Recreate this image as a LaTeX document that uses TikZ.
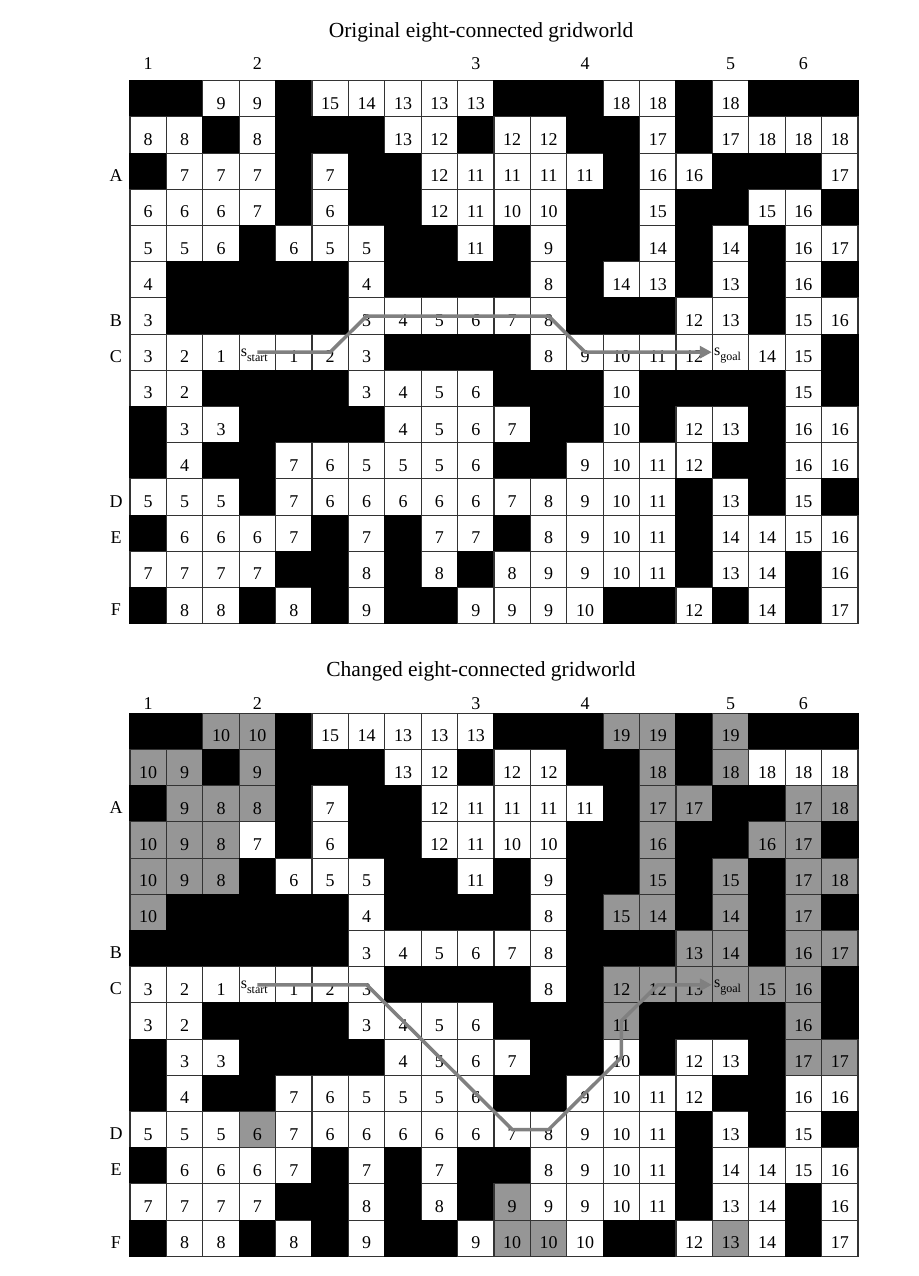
\documentclass[tikz,border=0pt]{standalone}
\usepackage{fontspec}
\setmainfont{Liberation Serif}
\usetikzlibrary{arrows.meta}
\definecolor{cellgray}{RGB}{150,150,150}
\definecolor{pathgray}{RGB}{128,128,128}
\newcommand\numfont{\fontsize{18}{18}\selectfont}
\newcommand\sublblfont{\fontsize{12}{12}\selectfont}
\def\mkcell#1#2\relax{\node[sqbox#1] (\gp-\gr-\cc) at ({130+36.4*(\cc+0.5)},{\gy+36.2*(\gr+0.5)}) {#2};}
\tikzset{
  sqbase/.style={minimum width=36.4pt, minimum height=36.2pt, inner sep=0pt, line width=1.1pt, font=\numfont, text height=21pt, text depth=0pt},
  sqboxw/.style={sqbase, draw=black!80, fill=white},
  sqboxk/.style={sqbase, draw=black, fill=black},
  sqboxg/.style={sqbase, draw=black!80, fill=cellgray},
  sqboxs/.style={sqboxw},
  sqboxe/.style={sqboxw},
  sqboxf/.style={sqboxg},
  slbl/.style={inner sep=0pt, font=\fontsize{16}{16}\selectfont},
  axlbl/.style={inner sep=0pt, font=\numfont, anchor=base},
  titlelbl/.style={inner sep=0pt, font=\fontsize{21.5}{21.5}\selectfont, anchor=base},
  pathline/.style={draw=pathgray, line width=3.5pt, line join=round, -{Triangle[length=12pt,width=12pt]}}
}
\begin{document}
\begin{tikzpicture}[x=1pt,y=-1pt]
\useasboundingbox (0,0) rectangle (918,1276);
\fill[white] (0,0) rectangle (918,1276);
% titles
\node[titlelbl] (title1) at (481,38) {Original eight-connected gridworld};
\node[titlelbl] (title2) at (481,676) {Changed eight-connected gridworld};
% top grid
\def\gp{t}\def\gy{80.7}
\foreach \rowlist [count=\gr from 0] in {
 {k,k,w9,w9,k,w15,w14,w13,w13,w13,k,k,k,w18,w18,k,w18,k,k,k},
 {w8,w8,k,w8,k,k,k,w13,w12,k,w12,w12,k,k,w17,k,w17,w18,w18,w18},
 {k,w7,w7,w7,k,w7,k,k,w12,w11,w11,w11,w11,k,w16,w16,k,k,k,w17},
 {w6,w6,w6,w7,k,w6,k,k,w12,w11,w10,w10,k,k,w15,k,k,w15,w16,k},
 {w5,w5,w6,k,w6,w5,w5,k,k,w11,k,w9,k,k,w14,k,w14,k,w16,w17},
 {w4,k,k,k,k,k,w4,k,k,k,k,w8,k,w14,w13,k,w13,k,w16,k},
 {w3,k,k,k,k,k,w3,w4,w5,w6,w7,w8,k,k,k,w12,w13,k,w15,w16},
 {w3,w2,w1,s,w1,w2,w3,k,k,k,k,w8,w9,w10,w11,w12,e,w14,w15,k},
 {w3,w2,k,k,k,k,w3,w4,w5,w6,k,k,k,w10,k,k,k,k,w15,k},
 {k,w3,w3,k,k,k,k,w4,w5,w6,w7,k,k,w10,k,w12,w13,k,w16,w16},
 {k,w4,k,k,w7,w6,w5,w5,w5,w6,k,k,w9,w10,w11,w12,k,k,w16,w16},
 {w5,w5,w5,k,w7,w6,w6,w6,w6,w6,w7,w8,w9,w10,w11,k,w13,k,w15,k},
 {k,w6,w6,w6,w7,k,w7,k,w7,w7,k,w8,w9,w10,w11,k,w14,w14,w15,w16},
 {w7,w7,w7,w7,k,k,w8,k,w8,k,w8,w9,w9,w10,w11,k,w13,w14,k,w16},
 {k,w8,w8,k,w8,k,w9,k,k,w9,w9,w9,w10,k,k,w12,k,w14,k,w17}}
 {\foreach \v [count=\cc from 0] in \rowlist {\expandafter\mkcell\v\relax}}
% bottom grid
\def\gp{u}\def\gy{713.3}
\foreach \rowlist [count=\gr from 0] in {
 {k,k,g10,g10,k,w15,w14,w13,w13,w13,k,k,k,g19,g19,k,g19,k,k,k},
 {g10,g9,k,g9,k,k,k,w13,w12,k,w12,w12,k,k,g18,k,g18,w18,w18,w18},
 {k,g9,g8,g8,k,w7,k,k,w12,w11,w11,w11,w11,k,g17,g17,k,k,g17,g18},
 {g10,g9,g8,w7,k,w6,k,k,w12,w11,w10,w10,k,k,g16,k,k,g16,g17,k},
 {g10,g9,g8,k,w6,w5,w5,k,k,w11,k,w9,k,k,g15,k,g15,k,g17,g18},
 {g10,k,k,k,k,k,w4,k,k,k,k,w8,k,g15,g14,k,g14,k,g17,k},
 {k,k,k,k,k,k,w3,w4,w5,w6,w7,w8,k,k,k,g13,g14,k,g16,g17},
 {w3,w2,w1,s,w1,w2,w3,k,k,k,k,w8,k,g12,g12,g13,f,g15,g16,k},
 {w3,w2,k,k,k,k,w3,w4,w5,w6,k,k,k,g11,k,k,k,k,g16,k},
 {k,w3,w3,k,k,k,k,w4,w5,w6,w7,k,k,w10,k,w12,w13,k,g17,g17},
 {k,w4,k,k,w7,w6,w5,w5,w5,w6,k,k,w9,w10,w11,w12,k,k,w16,w16},
 {w5,w5,w5,g6,w7,w6,w6,w6,w6,w6,w7,w8,w9,w10,w11,k,w13,k,w15,k},
 {k,w6,w6,w6,w7,k,w7,k,w7,k,k,w8,w9,w10,w11,k,w14,w14,w15,w16},
 {w7,w7,w7,w7,k,k,w8,k,w8,k,g9,w9,w9,w10,w11,k,w13,w14,k,w16},
 {k,w8,w8,k,w8,k,w9,k,k,w9,g10,g10,w10,k,k,w12,g13,w14,k,w17}}
 {\foreach \v [count=\cc from 0] in \rowlist {\expandafter\mkcell\v\relax}}
% axis labels
\foreach \g/\yb in {t/70, u/709} {
  \foreach \lab/\col in {1/0, 2/3, 3/9, 4/12, 5/16, 6/18}
    \node[axlbl] (\g-col\lab) at ({130+36.4*(\col+0.5)},\yb) {\lab};
}
\foreach \g/\ya in {t/80.7, u/713.3} {
  \foreach \lab/\row in {A/2, B/6, C/7, D/11, E/12, F/14}
    \node[axlbl] (\g-row\lab) at (116,{\ya+36.2*(\row+0.5)+10}) {\lab};
}
% paths
\draw[pathline] (t-7-3.center) -- (t-7-5.center) -- (t-6-6.center) -- (t-6-11.center) -- (t-7-12.center) -- (t-7-15.center) -- (t-7-16.west);
\draw[pathline] (u-7-3.center) -- (u-7-6.center) -- (u-11-10.center) -- (u-11-11.center) -- (u-9-13.center) -- (u-8-13.center) -- (u-7-14.center) -- (u-7-16.west);
% start / goal labels
\node[slbl, anchor=base west] (t-sstart) at ([xshift=2pt,yshift=-4pt]t-7-3.west) {s\raisebox{-5pt}{\sublblfont start}};
\node[slbl, anchor=base west] (t-sgoal) at ([xshift=2pt,yshift=-3pt]t-7-16.west) {s\raisebox{-5pt}{\sublblfont goal}};
\node[slbl, anchor=base west] (u-sstart) at ([xshift=2pt,yshift=-4pt]u-7-3.west) {s\raisebox{-5pt}{\sublblfont start}};
\node[slbl, anchor=base west] (u-sgoal) at ([xshift=2pt,yshift=-3pt]u-7-16.west) {s\raisebox{-5pt}{\sublblfont goal}};
\end{tikzpicture}
\end{document}
